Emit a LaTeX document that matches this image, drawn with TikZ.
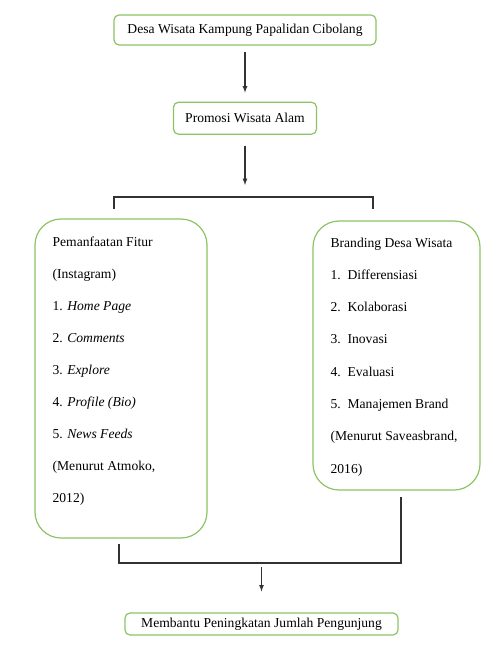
\documentclass[tikz,border=0pt]{standalone}
\usepackage{fontspec}
\setmainfont{Liberation Serif}
\usetikzlibrary{arrows,positioning,calc}
\definecolor{boxgreen}{RGB}{140,195,100}
\definecolor{linegray}{RGB}{50,50,50}
\tikzset{
    flowbox/.style={
        rectangle,
        rounded corners=5pt,
        draw=boxgreen,
        line width=1.2pt,
        inner sep=0pt,
        font=\fontsize{13.6}{16}\selectfont,
    },
    bigbox/.style={
        rectangle,
        rounded corners=26pt,
        draw=boxgreen,
        line width=1.2pt,
        inner sep=0pt,
    },
    itemlist/.style={
        align=left,
        inner sep=0pt,
        font=\fontsize{13.6}{32}\selectfont,
    },
    link/.style={
        draw=linegray,
        line width=1.2pt,
    },
}

\begin{document}
\begin{tikzpicture}[x=1pt,y=-1pt,>=latex]
	    \useasboundingbox (0,0) rectangle (481,650);
	    \node [flowbox,minimum width=262pt,minimum height=30pt] (desa) at (245,30) {Desa Wisata Kampung Papalidan Cibolang};
	    \node [flowbox,minimum width=143pt,minimum height=32pt] (promosi) [below=56pt of desa] {Promosi Wisata Alam};
	    \node [bigbox,minimum width=172pt,minimum height=319pt] (fitur) at (121,378.5) {};
	    \node [bigbox,minimum width=167pt,minimum height=269pt] (brand) at (396.5,355.5) {};
	    \node [itemlist] (fiturtext) [below right=18pt and 18pt of fitur.north west] {Pemanfaatan Fitur\\(Instagram)\\1. \textit{Home Page}\\2. \textit{Comments}\\3. \textit{Explore}\\4. \textit{Profile (Bio)}\\5. \textit{News Feeds}\\(Menurut Atmoko,\\2012)};
	    \node [itemlist,font=\fontsize{13.6}{32.3}\selectfont] (brandtext) [below right=17pt and 18pt of brand.north west] {Branding Desa Wisata\\1.\, Differensiasi\\2.\, Kolaborasi\\3.\, Inovasi\\4.\, Evaluasi\\5.\, Manajemen Brand\\(Menurut Saveasbrand,\\2016)};
	    \node [flowbox,minimum width=273pt,minimum height=22pt] (hasil) at (261.5,624) {Membantu Peningkatan Jumlah Pengunjung};
	    % split and join points
	    \coordinate (forkL) at (114,197);
	    \coordinate (forkR) at (373,197);
	    \coordinate (legL) at (114,209);
	    \coordinate (legR) at (373,209);
	    \coordinate (joinL) at (119,563);
	    \coordinate (joinR) at (401,563);
	    \draw [link,->,shorten <=6pt,shorten >=9pt] (desa.south) -- (desa.south |- promosi.north);
	    \draw [link,->,shorten <=11pt,shorten >=12pt] (promosi.south) -- (promosi.south |- forkL);
	    \draw [link] (legL) -- (forkL) -- (forkR) -- (legR);
	    \draw [link,shorten <=5pt,shorten >=6pt] (fitur.south -| joinL) -- (joinL) -- (joinR) -- (brand.south -| joinR);
	    \draw [link,->,shorten <=4pt,shorten >=21pt] (joinL -| hasil.north) -- (hasil.north);
\end{tikzpicture}
\end{document}
